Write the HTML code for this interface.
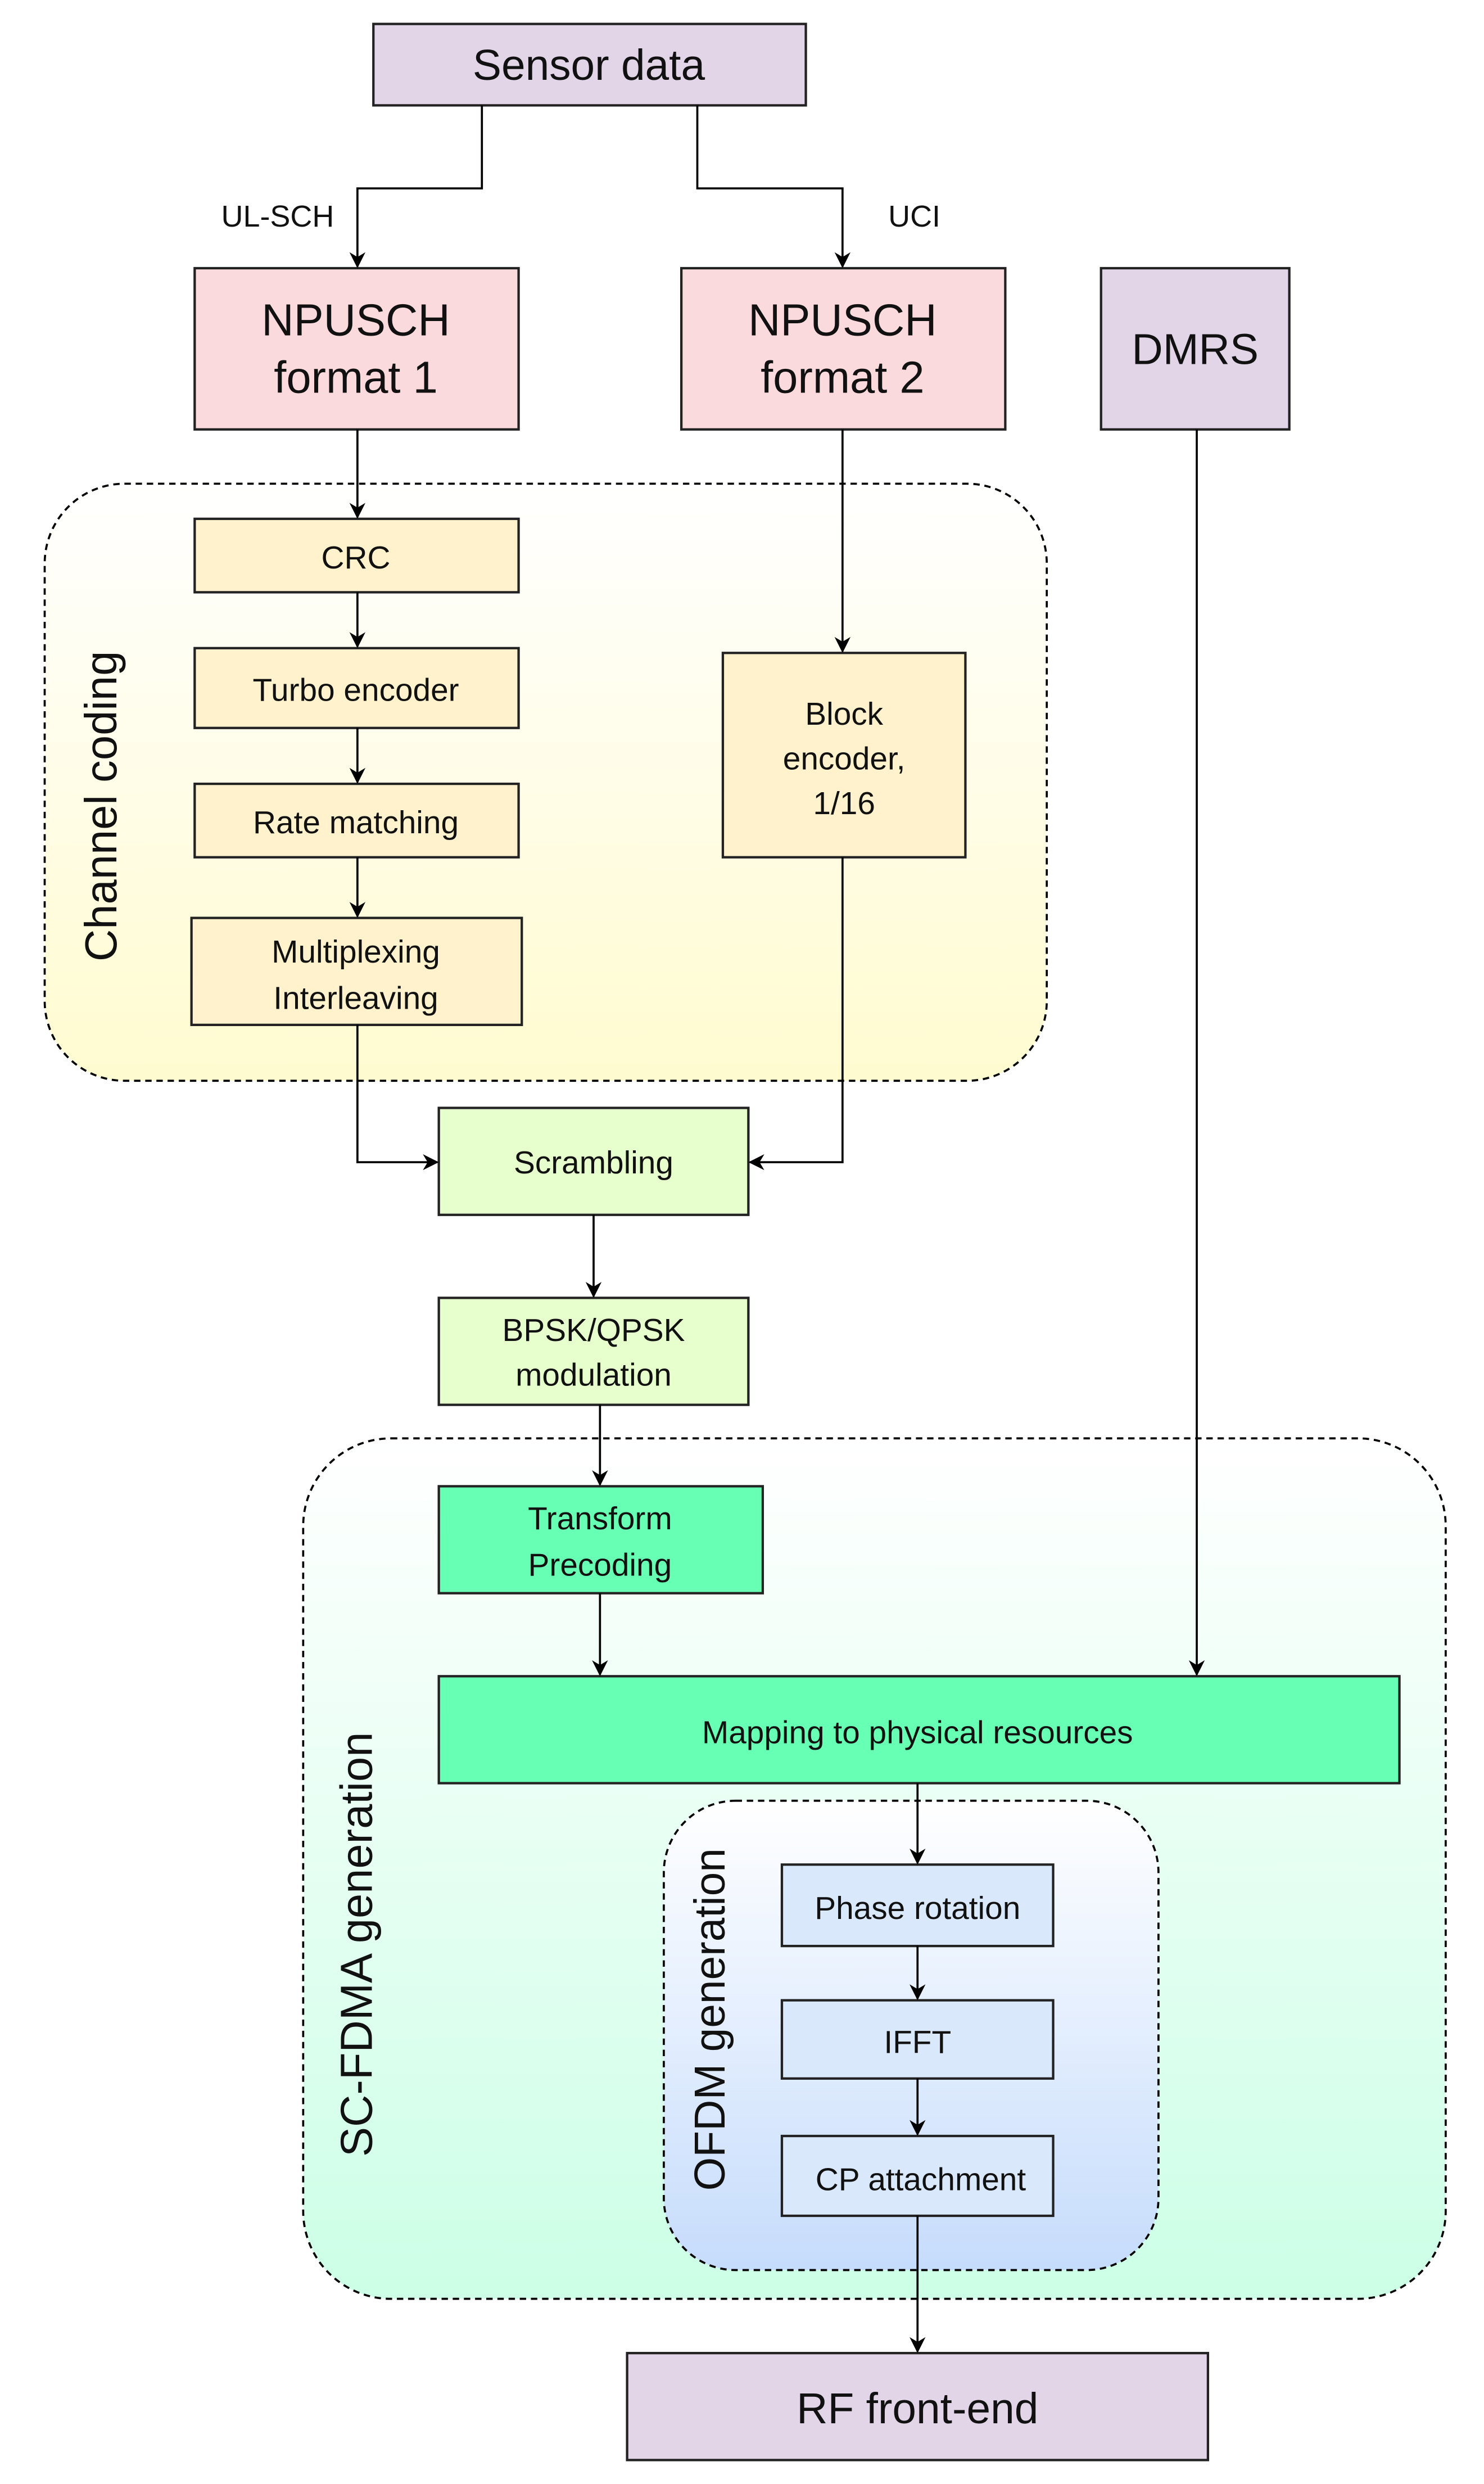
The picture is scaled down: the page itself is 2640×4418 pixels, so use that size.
<!DOCTYPE html>
<html><head><meta charset="utf-8"><style>html,body{margin:0;padding:0;background:#fff}svg{display:block}</style></head><body>
<svg width="2640" height="4418" viewBox="0 0 930 1556" preserveAspectRatio="none" xmlns="http://www.w3.org/2000/svg" font-family="Liberation Sans, Arial, sans-serif">
<defs>
<linearGradient id="gy" x1="0" y1="0" x2="0" y2="1"><stop offset="0" stop-color="#ffffff"/><stop offset="1" stop-color="#fffbd0"/></linearGradient>
<linearGradient id="gg" x1="0" y1="0" x2="0" y2="1"><stop offset="0" stop-color="#ffffff"/><stop offset="1" stop-color="#ccffe6"/></linearGradient>
<linearGradient id="gb" x1="0" y1="0" x2="0" y2="1"><stop offset="0" stop-color="#ffffff"/><stop offset="1" stop-color="#c6dcfc"/></linearGradient>
<marker id="a" markerWidth="10" markerHeight="10" refX="9" refY="5" orient="auto" markerUnits="userSpaceOnUse"><path d="M0,0 L10,5 L0,10 L3,5 z" fill="#000"/></marker>
</defs>
<g stroke="#000" stroke-width="1.3" fill="none" stroke-dasharray="4,3">
<rect x="28" y="303" width="628" height="374" rx="50" fill="url(#gy)"/>
<rect x="190" y="901" width="716" height="539" rx="55" fill="url(#gg)"/>
</g>
<g stroke="#222" stroke-width="1.5">
<rect x="234" y="15" width="271" height="51" fill="#e1d5e7"/>
<rect x="122" y="168" width="203" height="101" fill="#fadadd"/>
<rect x="427" y="168" width="203" height="101" fill="#fadadd"/>
<rect x="690" y="168" width="118" height="101" fill="#e1d5e7"/>
<rect x="122" y="325" width="203" height="46" fill="#fff2cc"/>
<rect x="122" y="406" width="203" height="50" fill="#fff2cc"/>
<rect x="122" y="491" width="203" height="46" fill="#fff2cc"/>
<rect x="120" y="575" width="207" height="67" fill="#fff2cc"/>
<rect x="453" y="409" width="152" height="128" fill="#fff2cc"/>
<rect x="275" y="694" width="194" height="67" fill="#e6ffcc"/>
<rect x="275" y="813" width="194" height="67" fill="#e6ffcc"/>
<rect x="275" y="931" width="203" height="67" fill="#66ffb3"/>
<rect x="275" y="1050" width="602" height="67" fill="#66ffb3"/>
</g>
<rect x="416" y="1128" width="310" height="294" rx="45" fill="url(#gb)" stroke="#000" stroke-width="1.3" stroke-dasharray="4,3"/>
<g stroke="#222" stroke-width="1.5">
<rect x="490" y="1168" width="170" height="51" fill="#dae8fc"/>
<rect x="490" y="1253" width="170" height="49" fill="#dae8fc"/>
<rect x="490" y="1338" width="170" height="50" fill="#dae8fc"/>
<rect x="393" y="1474" width="364" height="67" fill="#e1d5e7"/>
</g>
<g stroke="#000" stroke-width="1.3" fill="none" marker-end="url(#a)">
<polyline points="302,66 302,118 224,118 224,167"/>
<polyline points="437,66 437,118 528,118 528,167"/>
<line x1="224" y1="269" x2="224" y2="324"/>
<line x1="528" y1="269" x2="528" y2="408"/>
<line x1="224" y1="371" x2="224" y2="405"/>
<line x1="224" y1="456" x2="224" y2="490"/>
<line x1="224" y1="537" x2="224" y2="574"/>
<polyline points="224,642 224,728 274,728"/>
<polyline points="528,537 528,728 470,728"/>
<line x1="372" y1="761" x2="372" y2="812"/>
<line x1="376" y1="880" x2="376" y2="930"/>
<line x1="376" y1="998" x2="376" y2="1049"/>
<line x1="750" y1="269" x2="750" y2="1049"/>
<line x1="575" y1="1117" x2="575" y2="1167"/>
<line x1="575" y1="1219" x2="575" y2="1252"/>
<line x1="575" y1="1302" x2="575" y2="1337"/>
<line x1="575" y1="1388" x2="575" y2="1473"/>
</g>
<g fill="#111" text-anchor="middle">
<text x="369" y="50" font-size="27">Sensor data</text>
<text x="174" y="142" font-size="19">UL-SCH</text>
<text x="573" y="142" font-size="19">UCI</text>
<text x="223" y="210" font-size="28">NPUSCH</text>
<text x="223" y="246" font-size="28">format 1</text>
<text x="528" y="210" font-size="28">NPUSCH</text>
<text x="528" y="246" font-size="28">format 2</text>
<text x="749" y="228" font-size="27">DMRS</text>
<text x="223" y="356" font-size="20">CRC</text>
<text x="223" y="439" font-size="20">Turbo encoder</text>
<text x="223" y="522" font-size="20">Rate matching</text>
<text x="223" y="603" font-size="20">Multiplexing</text>
<text x="223" y="632" font-size="20">Interleaving</text>
<text x="529" y="454" font-size="20">Block</text>
<text x="529" y="482" font-size="20">encoder,</text>
<text x="529" y="510" font-size="20">1/16</text>
<text x="372" y="735" font-size="20">Scrambling</text>
<text x="372" y="840" font-size="20">BPSK/QPSK</text>
<text x="372" y="868" font-size="20">modulation</text>
<text x="376" y="958" font-size="20">Transform</text>
<text x="376" y="987" font-size="20">Precoding</text>
<text x="575" y="1092" font-size="20">Mapping to physical resources</text>
<text x="575" y="1202" font-size="20">Phase rotation</text>
<text x="575" y="1286" font-size="20">IFFT</text>
<text x="577" y="1372" font-size="20">CP attachment</text>
<text x="575" y="1518" font-size="27">RF front-end</text>
<text transform="translate(73,505) rotate(-90)" font-size="28">Channel coding</text>
<text transform="translate(233,1218) rotate(-90)" font-size="28">SC-FDMA generation</text>
<text transform="translate(454,1265) rotate(-90)" font-size="27">OFDM generation</text>
</g>
</svg>
</body></html>
